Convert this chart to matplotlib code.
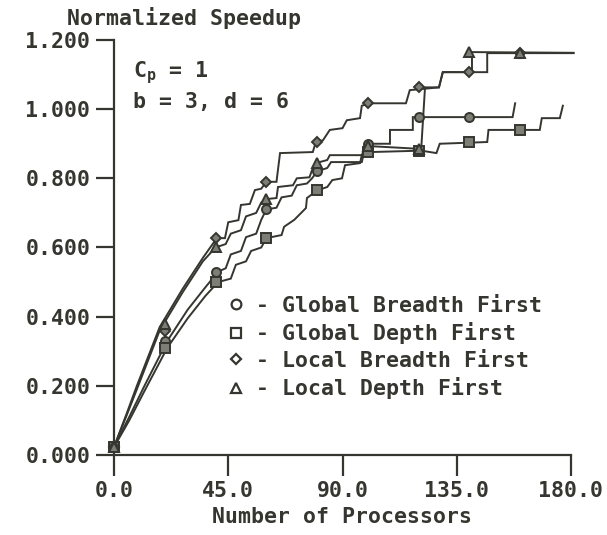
import matplotlib.pyplot as plt
from matplotlib.lines import Line2D

# --- data ------------------------------------------------------------------
# Global Breadth First (circles)
gb_x = [0, 6, 12, 21, 29, 36, 41, 44, 46, 50, 52, 56, 58, 60, 64, 66, 70, 72, 76, 78, 80,
        84, 85.5, 97.6, 99, 101, 108.7, 108.7, 117.7, 117.7, 157, 158]
gb_y = [0.023, 0.11, 0.20, 0.33, 0.42, 0.485, 0.53, 0.54, 0.58, 0.59, 0.63, 0.64, 0.68,
        0.71, 0.715, 0.745, 0.75, 0.78, 0.785, 0.80, 0.82, 0.83, 0.847, 0.847, 0.89, 0.90,
        0.90, 0.94, 0.94, 0.977, 0.977, 1.017]
gb_mx = [0, 20, 40, 60, 80, 100, 120, 140]
gb_my = [0.023, 0.33, 0.53, 0.71, 0.82, 0.90, 0.977, 0.977]

# Global Depth First (squares)
gd_x = [0, 6, 12, 21, 29, 36, 41, 46, 48, 52, 54, 58, 60, 66, 67, 71, 75.6, 76, 80, 84, 86,
        89.8, 91, 96.9, 97.6, 101, 121, 127, 128.3, 147, 147.5, 167.7, 168.5, 175.6, 176.8]
gd_y = [0.023, 0.10, 0.185, 0.31, 0.395, 0.46, 0.50, 0.51, 0.55, 0.56, 0.59, 0.60, 0.627,
        0.636, 0.66, 0.68, 0.714, 0.743, 0.765, 0.775, 0.795, 0.80, 0.838, 0.844, 0.867,
        0.876, 0.88, 0.873, 0.90, 0.905, 0.94, 0.94, 0.974, 0.974, 1.01]
gd_mx = [0, 20, 40, 60, 80, 100, 120, 140, 160]
gd_my = [0.023, 0.31, 0.50, 0.627, 0.765, 0.876, 0.88, 0.905, 0.94]

# Local Breadth First (diamonds)
lb_x = [0, 5, 9, 18, 27, 35, 40.5, 43.7, 45, 49, 50, 53.5, 55.5, 58, 60, 64, 65.4, 78.3,
        79.5, 82.3, 85, 90, 91.7, 96.9, 97.6, 101, 115, 116.5, 128, 129.5, 147, 147, 181]
lb_y = [0.023, 0.12, 0.20, 0.37, 0.48, 0.57, 0.627, 0.627, 0.673, 0.679, 0.723, 0.726,
        0.766, 0.77, 0.79, 0.79, 0.873, 0.876, 0.905, 0.91, 0.94, 0.945, 0.968, 0.974,
        1.01, 1.017, 1.017, 1.055, 1.063, 1.107, 1.107, 1.162, 1.162]
lb_mx = [0, 20, 40, 60, 80, 100, 120, 140, 160]
lb_my = [0.023, 0.36, 0.627, 0.79, 0.905, 1.017, 1.063, 1.107, 1.162]

# Local Depth First (triangles)
ld_x = [0, 5, 9, 18, 27, 35, 40, 44, 46, 50, 52, 56, 58, 60, 64, 64.6, 70.5, 72, 77, 78,
        80, 84, 85, 97.6, 98.8, 101, 121, 122.5, 128, 129.5, 141, 141, 181]
ld_y = [0.023, 0.115, 0.19, 0.36, 0.47, 0.56, 0.60, 0.61, 0.64, 0.65, 0.69, 0.70, 0.73,
        0.74, 0.743, 0.775, 0.78, 0.80, 0.803, 0.824, 0.845, 0.853, 0.867, 0.867, 0.89,
        0.893, 0.885, 1.063, 1.063, 1.107, 1.107, 1.165, 1.163]
ld_mx = [0, 20, 40, 60, 80, 100, 120, 140, 160]
ld_my = [0.023, 0.38, 0.60, 0.74, 0.845, 0.893, 0.885, 1.165, 1.163]

x_ticks = [0, 45, 90, 135, 180]
x_labels = ["0.0", "45.0", "90.0", "135.0", "180.0"]
y_ticks = [0, 0.2, 0.4, 0.6, 0.8, 1.0, 1.2]
y_labels = ["0.000", "0.200", "0.400", "0.600", "0.800", "1.000", "1.200"]

series = [
    ("- Global Breadth First", "o", gb_x, gb_y, gb_mx, gb_my),
    ("- Global Depth First", "s", gd_x, gd_y, gd_mx, gd_my),
    ("- Local Breadth First", "D", lb_x, lb_y, lb_mx, lb_my),
    ("- Local Depth First", "^", ld_x, ld_y, ld_mx, ld_my),
]

INK = "#34362f"
FS = 15.5
FONT = dict(family="DejaVu Sans Mono", weight="bold", color=INK)

plt.rcParams["font.family"] = ["DejaVu Sans Mono", "DejaVu Sans"]
plt.rcParams["font.weight"] = "bold"

W, H = 607, 535
fig = plt.figure(figsize=(W / 100, H / 100), dpi=100)
ax = fig.add_axes([114 / W, 1 - 455 / H, (571 - 114) / W, (455 - 40) / H])

handles = []
for label, mk, x, y, mx, my in series:
    ax.plot(x, y, color=INK, lw=1.4, solid_joinstyle="miter", clip_on=False)
    ax.plot(mx, my, ls="none", marker=mk, ms=6.5 if mk != "D" else 5.5,
            mfc="#7d7f77", mec=INK, mew=1.4, clip_on=False, zorder=3)
    handles.append(Line2D([], [], ls="none", marker=mk, ms=7 if mk != "D" else 5.5,
                          mfc="white", mec=INK, mew=1.6, label=label))

ax.set_xlim(0, 180)
ax.set_ylim(0, 1.2)
for side in ("top", "right"):
    ax.spines[side].set_visible(False)
for side in ("left", "bottom"):
    ax.spines[side].set_color(INK)
    ax.spines[side].set_linewidth(1.6)

ax.set_xticks(x_ticks, x_labels)
ax.set_yticks(y_ticks, y_labels)
ax.tick_params(axis="y", direction="out", length=13, width=1.6, pad=4,
               color=INK, labelcolor=INK, labelsize=FS)
ax.tick_params(axis="x", direction="out", length=15, width=1.6, pad=4,
               color=INK, labelcolor=INK, labelsize=FS)

ax.set_xlabel("Number of Processors", fontsize=FS, labelpad=4, **FONT)
fig.text(184 / W, 1 - 18 / H, "Normalized Speedup", ha="center", va="center",
         fontsize=FS, **FONT)

ax.text(133 / W, 1 - 73 / H, r"C$_\mathregular{p}$ = 1", transform=fig.transFigure,
        ha="left", va="center", fontsize=FS, **FONT)
ax.text(133 / W, 1 - 102 / H, "b = 3, d = 6", transform=fig.transFigure,
        ha="left", va="center", fontsize=FS, **FONT)

leg = ax.legend(handles=handles, loc="upper left",
                bbox_to_anchor=(228 / W, 1 - 296 / H), bbox_transform=fig.transFigure,
                frameon=False, handlelength=0.7, handletextpad=0.6, labelspacing=0.3,
                borderpad=0, borderaxespad=0, prop=dict(family="DejaVu Sans Mono",
                                                       weight="bold", size=FS))
for t in leg.get_texts():
    t.set_color(INK)

fig.savefig("out.png", dpi=100)
